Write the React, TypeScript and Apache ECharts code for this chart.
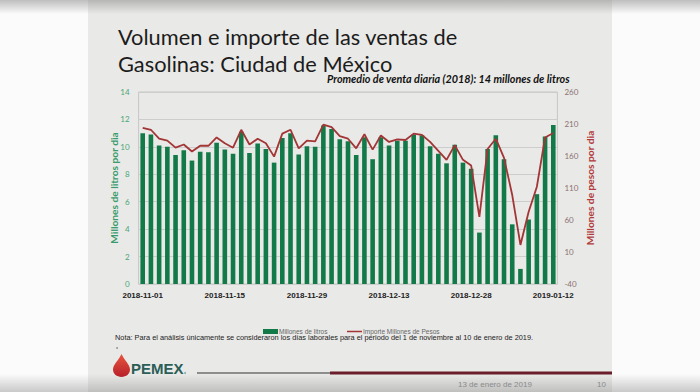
import React, { useEffect, useRef } from 'react';
import * as echarts from 'echarts';

const categories = [
  '2018-11-01', '2018-11-02', '2018-11-05', '2018-11-06', '2018-11-07', '2018-11-08', '2018-11-09', '2018-11-12', '2018-11-13', '2018-11-14',
  '2018-11-15', '2018-11-16', '2018-11-19', '2018-11-20', '2018-11-21', '2018-11-22', '2018-11-23', '2018-11-26', '2018-11-27', '2018-11-28',
  '2018-11-29', '2018-11-30', '2018-12-03', '2018-12-04', '2018-12-05', '2018-12-06', '2018-12-07', '2018-12-10', '2018-12-11', '2018-12-12',
  '2018-12-13', '2018-12-14', '2018-12-17', '2018-12-18', '2018-12-19', '2018-12-20', '2018-12-21', '2018-12-24', '2018-12-26', '2018-12-27',
  '2018-12-28', '2018-12-31', '2019-01-02', '2019-01-03', '2019-01-04', '2019-01-07', '2019-01-08', '2019-01-09', '2019-01-10', '2019-01-11',
  '2019-01-12',
];

const volumen = [
  11.0, 10.9, 10.1, 10.0, 9.4, 9.75, 9.0, 9.65, 9.6, 10.3,
  9.8, 9.5, 11.1, 9.55, 10.25, 9.85, 8.85, 10.65, 11.0, 9.45,
  10.05, 10.0, 11.55, 11.3, 10.55, 10.4, 9.4, 10.7, 9.1, 10.7,
  10.1, 10.45, 10.45, 10.9, 10.85, 10.05, 9.5, 8.8, 10.15, 8.85,
  8.4, 3.75, 9.85, 10.85, 9.1, 4.35, 1.1, 4.7, 6.55, 10.75,
  11.6,
];

const importe = [
  204, 201, 187, 184, 173, 178, 167, 176, 176, 189,
  180, 173, 201, 178, 187, 180, 159, 195, 201, 172,
  184, 183, 209, 205, 191, 187, 172, 194, 170, 192,
  182, 186, 185, 195, 193, 182, 168, 154, 177, 154,
  145, 65, 171, 187, 157, 99, 21, 73, 112, 189,
  196,
];

const seriesNames = ['Millones de litros', 'Importe Millones de Pesos'];
const titleLines = ['Volumen e importe de las ventas de', 'Gasolinas: Ciudad de México'];
const subtitle = 'Promedio de venta diaria (2018): 14 millones de litros';
const note = 'Nota: Para el análisis únicamente se consideraron los días laborales para el periodo del 1 de noviembre al 10 de enero de 2019.';
const footerDate = '13 de enero de 2019';
const pageNumber = '10';

const BAR_COLOR = '#127a48';
const LINE_COLOR = '#a23535';

const dropPath = 'M10 0 C13 7 20 13 20 19 C20 24.5 15.5 28 10 28 C4.5 28 0 24.5 0 19 C0 13 7 7 10 0 Z';
echarts.graphic.registerShape('pemexDrop', echarts.graphic.extendPath(dropPath, {}));

export default function App() {
  const ref = useRef<HTMLDivElement>(null);
  useEffect(() => {
    if (!ref.current) return;
    const chart = echarts.init(ref.current, null, { renderer: 'svg' });
    const option: any = {
      animation: false,
      backgroundColor: 'transparent',
      textStyle: { fontFamily: 'Lato' },
      grid: {
        left: 138.6, right: 142.6, top: 92, bottom: 108,
        show: true, borderColor: '#c6c6c6', borderWidth: 1, backgroundColor: 'transparent',
      },
      xAxis: {
        type: 'category', data: categories, boundaryGap: true,
        axisLine: { show: false }, axisTick: { show: false },
        axisLabel: { interval: 9, fontSize: 8, fontWeight: 'bold', color: '#222', margin: 7, fontFamily: 'Liberation Sans' },
      },
      yAxis: [
        {
          type: 'value', min: 0, max: 14, interval: 2,
          name: 'Millones de litros por dia', nameLocation: 'middle', nameGap: 20, nameRotate: 90,
          nameMoveOverlap: false,
          nameTextStyle: { color: '#3a9c6c', fontWeight: 'bold', fontSize: 10.2 },
          axisLabel: { color: '#4aa77a', fontSize: 8, margin: 9 },
          splitLine: { lineStyle: { color: '#cdcdcd' } },
          axisLine: { show: false }, axisTick: { show: false },
        },
        {
          type: 'value', min: -40, max: 260, interval: 50, position: 'right',
          name: 'Millones de pesos por dia', nameLocation: 'middle', nameGap: 27.5, nameRotate: 90,
          nameMoveOverlap: false,
          nameTextStyle: { color: '#b23a3a', fontWeight: 'bold', fontSize: 10.2 },
          axisLabel: { color: '#8a7272', fontSize: 8, margin: 7 },
          splitLine: { show: false }, axisLine: { show: false }, axisTick: { show: false },
        },
      ],
      series: [
        {
          type: 'bar', name: seriesNames[0], data: volumen, barWidth: '56%',
          itemStyle: { color: BAR_COLOR },
        },
        {
          type: 'line', name: seriesNames[1], yAxisIndex: 1, data: importe,
          symbol: 'none', lineStyle: { color: LINE_COLOR, width: 1.8 }, itemStyle: { color: LINE_COLOR },
        },
      ],
      graphic: [
        { type: 'text', left: 118, top: 25, style: { text: titleLines[0], font: '21.8px Lato', lineHeight: 20, fill: '#1c1c1c' } },
        { type: 'text', left: 118, top: 52, style: { text: titleLines[1], font: '21.8px Lato', lineHeight: 20, fill: '#1c1c1c' } },
        { type: 'text', left: 327, top: 73, style: { text: subtitle, font: 'italic bold 10.8px Lato', lineHeight: 11, fill: '#111' } },
        { type: 'rect', shape: { x: 263, y: 329, width: 15, height: 5 }, style: { fill: BAR_COLOR } },
        { type: 'text', left: 279, top: 327.5, style: { text: seriesNames[0], font: '6.5px "Liberation Sans"', fill: '#666' } },
        { type: 'line', shape: { x1: 347, y1: 331.5, x2: 362, y2: 331.5 }, style: { stroke: LINE_COLOR, lineWidth: 1.5 } },
        { type: 'text', left: 363, top: 327.5, style: { text: seriesNames[1], font: '6.5px "Liberation Sans"', fill: '#666' } },
        { type: 'text', left: 115, top: 334, style: { text: note, font: '7.35px "Liberation Sans"', fill: '#222' } },
        { type: 'circle', shape: { cx: 117, cy: 348, r: 0.7 }, style: { fill: '#444' } },
        {
          type: 'pemexDrop', x: 113, y: 354, scaleX: 0.85, scaleY: 0.82,
          style: {
            fill: new echarts.graphic.LinearGradient(0, 0, 0, 1, [
              { offset: 0, color: '#e8553f' }, { offset: 1, color: '#b8202a' },
            ]),
          },
        },
        { type: 'text', left: 131, top: 361, style: { text: 'PEMEX', font: 'bold 15px "Liberation Sans"', fill: '#2b5e57' } },
        { type: 'circle', shape: { cx: 185, cy: 373, r: 1 }, style: { fill: '#8aa' } },
        { type: 'rect', shape: { x: 197, y: 372, width: 133, height: 2 }, style: { fill: '#8d8d8d' } },
        { type: 'rect', shape: { x: 330, y: 371.5, width: 282, height: 3 }, style: { fill: '#6a1d2b' } },
        { type: 'text', left: 458, top: 380, style: { text: footerDate, font: '8px "Liberation Sans"', fill: '#8a8a8a' } },
        { type: 'text', left: 597, top: 380, style: { text: pageNumber, font: '8px "Liberation Sans"', fill: '#8a8a8a' } },
      ],
    };
    chart.setOption(option);
    return () => chart.dispose();
  }, []);
  return (
    <div
      ref={ref}
      style={{
        position: 'fixed', left: 0, top: 0, width: 700, height: 392,
        background:
          'linear-gradient(to bottom, rgba(140,140,140,0.55), rgba(140,140,140,0) 14px), ' +
          'linear-gradient(to top, rgba(140,140,140,0.45), rgba(140,140,140,0) 18px), ' +
          'linear-gradient(to right, #fbfbfb 0, #fbfbfb 88px, #e9e9e7 88px, #e9e9e7 612px, #fbfbfb 612px)',
      }}
    />
  );
}
